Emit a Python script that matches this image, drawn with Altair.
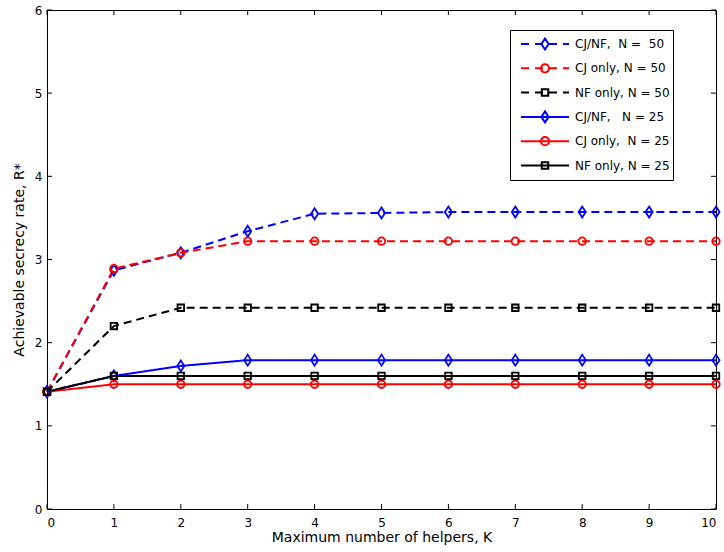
import altair as alt
import pandas as pd

# Maximum number of helpers K
helpers = list(range(11))

# Achievable secrecy rate R* for each scheme
cjnf_50 = [1.41, 2.87, 3.08, 3.34, 3.55, 3.56, 3.57, 3.57, 3.57, 3.57, 3.57]
cj_50 = [1.41, 2.89, 3.08, 3.22, 3.22, 3.22, 3.22, 3.22, 3.22, 3.22, 3.22]
nf_50 = [1.41, 2.20, 2.42, 2.42, 2.42, 2.42, 2.42, 2.42, 2.42, 2.42, 2.42]
cjnf_25 = [1.41, 1.60, 1.72, 1.79, 1.79, 1.79, 1.79, 1.79, 1.79, 1.79, 1.79]
cj_25 = [1.41, 1.50, 1.50, 1.50, 1.50, 1.50, 1.50, 1.50, 1.50, 1.50, 1.50]
nf_25 = [1.41, 1.60, 1.60, 1.60, 1.60, 1.60, 1.60, 1.60, 1.60, 1.60, 1.60]

NB = "\u00a0"
series_names = [
    f"CJ/NF,{NB} N ={NB} 50",
    "CJ only, N = 50",
    "NF only, N = 50",
    f"CJ/NF,{NB}{NB} N = 25",
    f"CJ only,{NB} N = 25",
    "NF only, N = 25",
]
series_values = [cjnf_50, cj_50, nf_50, cjnf_25, cj_25, nf_25]
series_colors = ["#0000ff", "#ff0000", "#000000", "#0000ff", "#ff0000", "#000000"]
series_dashes = [[8, 5], [8, 5], [8, 5], [1, 0], [1, 0], [1, 0]]

x_ticks = list(range(0, 11))
y_ticks = list(range(0, 7))

rows = []
for name, vals in zip(series_names, series_values):
    for k, r in zip(helpers, vals):
        rows.append({"K": k, "R": r, "series": name})
df = pd.DataFrame(rows)

xt = pd.DataFrame({"K": x_ticks})
yt = pd.DataFrame({"R": y_ticks})

W, H = 669, 499
TICK = 5
FONT = "DejaVu Sans"

# marker shapes (unit-square paths)
diamond = "M0,-1L0.64,0L0,1L-0.64,0Z"
marker_shapes = [diamond, "circle", "square", diamond, "circle", "square"]
marker_sizes = [121, 56, 42, 121, 56, 42]

# legend symbols: a 48 px line sample with the marker in the middle;
# the trailing move-to widens each row so the legend box has room on the right
dashed = "M-1,0H-0.667M-0.417,0H-0.083M0.167,0H0.5M0.75,0H1"
solid = "M-1,0H1"
lg_diamond = "M0,-0.229L0.15,0L0,0.229L-0.15,0Z"
lg_circle = "M0.17,0A0.17,0.17,0,1,1,-0.17,0A0.17,0.17,0,1,1,0.17,0Z"
lg_square = "M-0.135,-0.135H0.135V0.135H-0.135Z"
row_end = "M6.375,0"
legend_paths = [
    dashed + lg_diamond + row_end, dashed + lg_circle + row_end,
    dashed + lg_square + row_end,
    solid + lg_diamond + row_end, solid + lg_circle + row_end,
    solid + lg_square + row_end,
]

x_scale = alt.Scale(domain=[0, 10], nice=False, zero=False)
y_scale = alt.Scale(domain=[0, 6], nice=False, zero=False)
color_scale = alt.Scale(domain=series_names, range=series_colors)

x_enc = alt.X("K:Q", scale=x_scale,
              axis=alt.Axis(orient="bottom", values=x_ticks, format="d", tickSize=0,
                            labelPadding=8, domain=False, grid=False,
                            title="Maximum number of helpers, K", titlePadding=2))
y_enc = alt.Y("R:Q", scale=y_scale,
              axis=alt.Axis(orient="left", values=y_ticks, format="d", tickSize=0,
                            labelPadding=5, domain=False, grid=False,
                            title="Achievable secrecy rate, R*", titlePadding=8))

lines = alt.Chart(df).mark_line(strokeWidth=2).encode(
    x=x_enc,
    y=y_enc,
    color=alt.Color("series:N", scale=color_scale, legend=None),
    strokeDash=alt.StrokeDash("series:N",
                              scale=alt.Scale(type="ordinal", domain=series_names,
                                              range=series_dashes),
                              legend=None),
    detail="series:N",
)

points = alt.Chart(df).mark_point(filled=False, strokeWidth=1.8, opacity=1).encode(
    x=x_enc,
    y=y_enc,
    color=alt.Color("series:N", scale=color_scale, legend=None),
    shape=alt.Shape("series:N", scale=alt.Scale(domain=series_names, range=marker_shapes),
                    legend=None),
    size=alt.Size("series:N",
                  scale=alt.Scale(type="ordinal", domain=series_names, range=marker_sizes),
                  legend=None),
)

# inward-pointing ticks on all four sides of the box
rule = dict(color="black", strokeWidth=1)
bottom_ticks = alt.Chart(xt).mark_rule(**rule).encode(
    x=x_enc, y=alt.value(H), y2=alt.value(H - TICK))
top_ticks = alt.Chart(xt).mark_rule(**rule).encode(
    x=x_enc, y=alt.value(0), y2=alt.value(TICK))
left_ticks = alt.Chart(yt).mark_rule(**rule).encode(
    y=y_enc, x=alt.value(0), x2=alt.value(TICK))
right_ticks = alt.Chart(yt).mark_rule(**rule).encode(
    y=y_enc, x=alt.value(W), x2=alt.value(W - TICK))

legend_def = alt.Legend(
    title=None, orient="none", legendX=463, legendY=20,
    padding=3, symbolOffset=7, labelOffset=5,
    symbolSize=2304, symbolStrokeWidth=2, clipHeight=22, rowPadding=2.3,
    strokeColor="black", fillColor="white",
    labelFont=FONT, labelFontSize=12, labelColor="black",
)

legend_layer = alt.Chart(df).transform_filter("false").mark_point(
    filled=False, strokeWidth=2, opacity=1
).encode(
    x=x_enc,
    y=y_enc,
    color=alt.Color("series:N", scale=color_scale, legend=legend_def),
    shape=alt.Shape("series:N", scale=alt.Scale(domain=series_names, range=legend_paths),
                    legend=legend_def),
)

chart = alt.layer(
    lines, points, bottom_ticks, top_ticks, left_ticks, right_ticks, legend_layer
).resolve_scale(
    color="independent", shape="independent", size="independent",
    strokeDash="independent",
).properties(
    width=W, height=H,
    autosize=alt.AutoSizeParams(type="none"),
    padding={"left": 47, "top": 10, "right": 8, "bottom": 43},
    background="white",
).configure_view(
    stroke="black", strokeWidth=1,
).configure_axis(
    labelFont=FONT, labelFontSize=12, labelColor="black",
    titleFont=FONT, titleFontSize=14, titleFontWeight="normal", titleColor="black",
)

chart.save("out.html", embed_options={"renderer": "svg", "actions": False})
